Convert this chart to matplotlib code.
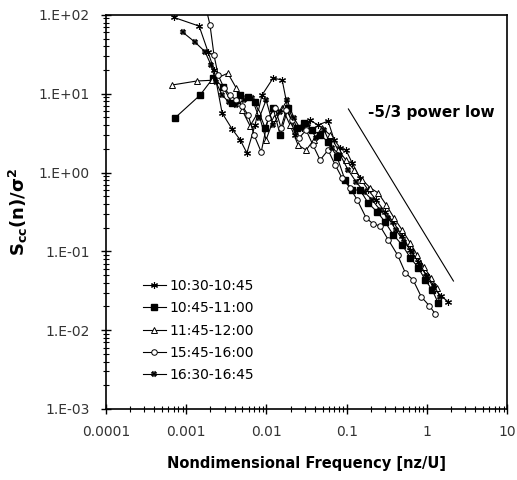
import matplotlib
matplotlib.use('Agg')
import matplotlib.pyplot as plt
from matplotlib.ticker import LogLocator, FixedLocator

plt.rcParams['font.family'] = ['DejaVu Sans']
plt.rcParams['mathtext.default'] = 'bf'

# valores (frequencia adimensional, espectro normalizado)
labels = ['10:30-10:45', '10:45-11:00', '11:45-12:00', '15:45-16:00', '16:30-16:45']

f1 = [7.0e-4, 1.45e-3, 1.87e-3, 2.22e-3, 2.8e-3, 3.7e-3, 4.7e-3, 5.7e-3, 7.2e-3, 8.8e-3,
      0.0121, 0.0157, 0.0186, 0.0228, 0.0278, 0.035, 0.044, 0.0586, 0.0697, 0.083,
      0.098, 0.117, 0.147, 0.185, 0.233, 0.30, 0.38, 0.49, 0.62, 0.78, 0.98, 1.23, 1.50, 1.84]
s1 = [93, 72, 34, 20, 5.7, 3.6, 2.6, 1.77, 4.0, 9.6,
      15.8, 14.9, 6.2, 3.0, 3.7, 4.6, 4.0, 4.5, 2.6, 2.05,
      1.93, 1.32, 0.85, 0.60, 0.45, 0.316, 0.237, 0.157, 0.104, 0.074, 0.049, 0.034, 0.027, 0.023]

f2 = [7.2e-4, 1.49e-3, 2.16e-3, 2.9e-3, 3.7e-3, 4.7e-3, 5.9e-3, 7.2e-3, 9.6e-3, 0.0121,
      0.0148, 0.0186, 0.024, 0.0294, 0.037, 0.0467, 0.0586, 0.076, 0.095, 0.117,
      0.147, 0.185, 0.24, 0.30, 0.38, 0.49, 0.62, 0.78, 0.95, 1.16, 1.38]
s2 = [4.9, 9.6, 15.8, 12.1, 7.6, 9.6, 9.1, 7.8, 3.7, 6.6,
      3.0, 6.6, 3.7, 4.25, 3.46, 3.0, 2.44, 1.57, 0.81, 0.60,
      0.60, 0.41, 0.316, 0.237, 0.162, 0.121, 0.083, 0.062, 0.0436, 0.0325, 0.0222]

f3 = [6.7e-4, 1.36e-3, 2.1e-3, 3.3e-3, 4.2e-3, 4.97e-3, 6.25e-3, 7.9e-3, 9.9e-3, 0.0124,
      0.0157, 0.0197, 0.0248, 0.0312, 0.039, 0.049, 0.062, 0.078, 0.098, 0.124,
      0.156, 0.196, 0.247, 0.31, 0.39, 0.49, 0.62, 0.755, 0.92, 1.13, 1.34]
s3 = [12.9, 14.5, 14.8, 18.2, 11.8, 6.2, 3.9, 5.85, 2.6, 4.9,
      6.6, 4.0, 2.23, 1.93, 2.6, 3.7, 3.0, 1.93, 1.44, 1.08,
      0.81, 0.64, 0.55, 0.39, 0.265, 0.187, 0.128, 0.090, 0.063, 0.046, 0.034]

f4 = [1.62e-3, 1.98e-3, 2.22e-3, 2.5e-3, 2.96e-3, 3.5e-3, 4.2e-3, 4.97e-3, 5.9e-3, 7.0e-3,
      8.6e-3, 0.0105, 0.0128, 0.0152, 0.0176, 0.0208, 0.0255, 0.0312, 0.038, 0.0467,
      0.0586, 0.0718, 0.0877, 0.110, 0.135, 0.175, 0.213, 0.26, 0.33, 0.43,
      0.54, 0.67, 0.85, 1.07, 1.27]
s4 = [178, 74, 30.8, 17.2, 11.8, 9.6, 8.3, 7.0, 5.4, 3.0,
      1.82, 4.9, 6.6, 3.7, 6.2, 4.6, 2.74, 3.46, 2.23, 1.44,
      1.93, 1.25, 0.85, 0.64, 0.45, 0.265, 0.223, 0.21, 0.14, 0.090,
      0.053, 0.0436, 0.0265, 0.0204, 0.0161]

f5 = [9.1e-4, 1.29e-3, 1.72e-3, 2.04e-3, 2.35e-3, 2.8e-3, 3.4e-3, 4.2e-3, 5.3e-3, 6.6e-3,
      8.1e-3, 9.9e-3, 0.0121, 0.0148, 0.0181, 0.022, 0.026, 0.033, 0.0416, 0.0522,
      0.0658, 0.083, 0.104, 0.131, 0.165, 0.207, 0.26, 0.33, 0.41, 0.52,
      0.65, 0.82, 1.0, 1.23, 1.46]
s5 = [60, 45, 34, 23, 14, 9.6, 7.8, 7.2, 8.3, 8.8,
      4.9, 8.3, 4.0, 5.85, 8.3, 4.9, 3.7, 4.1, 2.74, 3.46,
      2.05, 1.67, 1.08, 0.76, 0.57, 0.45, 0.336, 0.265, 0.187, 0.132,
      0.098, 0.067, 0.049, 0.0366, 0.0265]

# reta de referencia -5/3
ref_f = [0.105, 2.14]
ref_s = [6.4, 0.042]
ref_texto = '-5/3 power low'

series = [(f1, s1), (f2, s2), (f3, s3), (f4, s4), (f5, s5)]
estilos = [
    dict(marker=(6, 2, 0), markersize=5, mfc='black', mec='black', mew=0.8),
    dict(marker='s', markersize=4, mfc='black', mec='black'),
    dict(marker='^', markersize=4.5, mfc='white', mec='black', mew=0.7),
    dict(marker='o', markersize=4, mfc='white', mec='black', mew=0.7),
    dict(marker='X', markersize=4, mfc='black', mec='black', mew=0.3),
]

fig = plt.figure(figsize=(5.17, 4.8), dpi=100)
ax = fig.add_axes([0.205, 0.148, 0.776, 0.821])

for (f, s), lab, est in zip(series, labels, estilos):
    ax.plot(f, s, color='black', linewidth=0.8, label=lab, **est)

ax.plot(ref_f, ref_s, color='black', linewidth=0.8)
ax.text(0.185, 5.7, ref_texto, fontsize=11, fontweight='bold', va='center')

ax.set_xscale('log')
ax.set_yscale('log')
ax.set_xlim(1e-4, 10)
ax.set_ylim(1e-3, 1e2)

ax.xaxis.set_major_locator(FixedLocator([1e-4, 1e-3, 1e-2, 1e-1, 1, 10]))
ax.set_xticklabels(['0.0001', '0.001', '0.01', '0.1', '1', '10'])
ax.yaxis.set_major_locator(FixedLocator([1e-3, 1e-2, 1e-1, 1, 10, 100]))
ax.set_yticklabels(['1.E-03', '1.E-02', '1.E-01', '1.E+00', '1.E+01', '1.E+02'])
ax.xaxis.set_minor_locator(LogLocator(base=10, subs=range(2, 10)))
ax.yaxis.set_minor_locator(LogLocator(base=10, subs=range(2, 10)))
ax.xaxis.set_minor_formatter(plt.NullFormatter())
ax.yaxis.set_minor_formatter(plt.NullFormatter())

ax.tick_params(which='major', direction='inout', length=7, width=1, labelsize=10,
               colors='black', pad=8)
ax.tick_params(which='minor', direction='inout', length=4, width=0.8)
ax.tick_params(axis='both', which='major', labelcolor='#333333')
for sp in ax.spines.values():
    sp.set_linewidth(1.2)

ax.set_xlabel('Nondimensional Frequency [nz/U]', fontsize=10.5, fontweight='bold', labelpad=12)
ax.set_ylabel('S$_{cc}$(n)/σ$^{2}$', fontsize=13, fontweight='bold', labelpad=6)

ax.legend(loc='upper left', bbox_to_anchor=(0.093, 0.33), frameon=False, fontsize=10,
          handlelength=1.6, handletextpad=0.3, labelspacing=0.6, borderpad=0,
          borderaxespad=0)

fig.savefig('out.png', dpi=100)
